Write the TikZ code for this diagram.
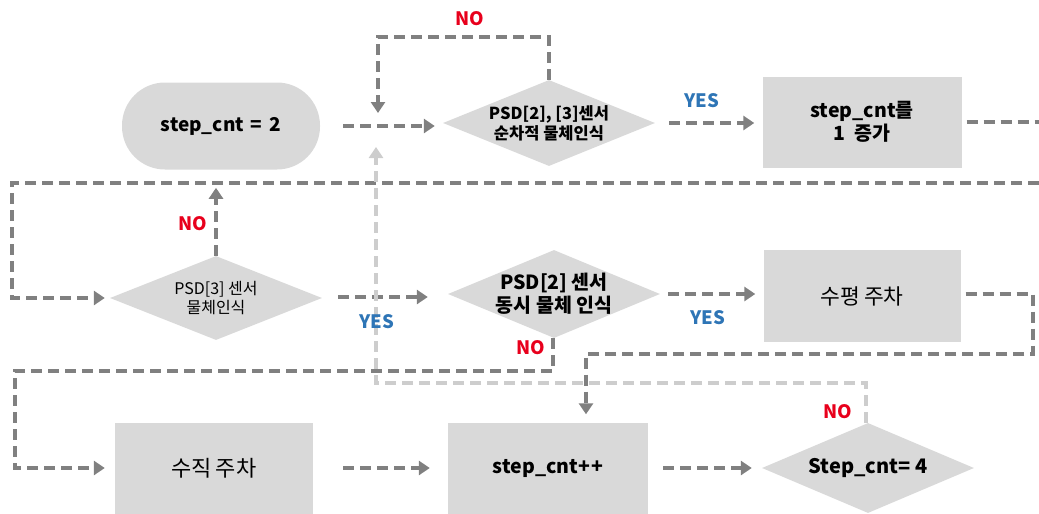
\documentclass[tikz,border=0pt]{standalone}
\usepackage{fontspec}
\setmainfont{Noto Sans CJK KR}
\usetikzlibrary{shapes.geometric,arrows.meta,calc}
\definecolor{boxfill}{HTML}{D9D9D9}
\definecolor{dk}{HTML}{808080}
\definecolor{lg}{HTML}{CDCDCD}
\definecolor{nored}{HTML}{E8001C}
\definecolor{yesblue}{HTML}{2E75B6}
\begin{document}
\begin{tikzpicture}[x=1pt,y=-1pt,
  proc/.style={rectangle,fill=boxfill,minimum width=199pt,minimum height=91pt,inner sep=0pt,align=center},
  term/.style={rectangle,rounded corners=43pt,fill=boxfill,minimum width=198pt,minimum height=87pt,inner sep=0pt},
  dec/.style={diamond,fill=boxfill,minimum width=212pt,minimum height=88pt,inner sep=0pt},
  txt/.style={align=center,inner sep=0pt,text=black},
  flowline/.style={draw=dk,line width=4pt,dash pattern=on 11pt off 6pt},
  flow/.style={flowline,-{Triangle[length=11pt,width=14pt]}},
  lflow/.style={draw=lg,line width=4pt,dash pattern=on 11pt off 6pt,-{Triangle[length=11pt,width=14pt]}},
  nolbl/.style={text=nored,font=\fontsize{18.5}{20}\selectfont\bfseries,inner sep=0pt},
  yeslbl/.style={text=yesblue,font=\fontsize{18.5}{20}\selectfont\bfseries,inner sep=0pt}]
\useasboundingbox (0,0) rectangle (1039,514);

% nodes
\node[term] (t1) at (221,126) {};
\node[txt,font=\fontsize{19}{21}\selectfont\bfseries] (t1t) at (t1) {step\_cnt\hspace{7pt}=\hspace{7pt}2};
\node[dec,minimum height=86pt] (d1) at (549,123) {};
\node[txt,font=\fontsize{16.5}{20}\selectfont\bfseries] (d1t) at (d1) {PSD[2], [3]센서\\순차적 물체인식};
\node[proc] (b1) at (862,122) {};
\node[txt,font=\fontsize{19.5}{23}\selectfont\bfseries] (b1t) at (b1) {step\_cnt를\\1\hspace{10pt}증가};

\node[dec,minimum height=84pt] (d2) at (216,298) {};
\node[txt,font=\fontsize{16}{19}\selectfont] (d2t) at (d2) {PSD[3] 센서\\물체인식};
\node[dec] (d3) at (554,294) {};
\node[txt,font=\fontsize{19.5}{23}\selectfont\bfseries] (d3t) at (d3) {PSD[2] 센서\\동시 물체 인식};
\node[proc,minimum width=197pt,minimum height=92pt] (b2) at (862,296) {};
\node[txt,font=\fontsize{21.5}{24}\selectfont] (b2t) at (b2) {수평\hspace{4pt}주차};

\node[proc,minimum width=198pt] (b3) at (214,468) {};
\node[txt,font=\fontsize{22}{24}\selectfont] (b3t) at (b3) {수직\hspace{4pt}주차};
\node[proc,minimum width=200pt] (b4) at (548,468) {};
\node[txt,font=\fontsize{19.5}{22}\selectfont\bfseries] (b4t) at (b4) {step\_cnt+\kern1pt+};
\node[dec,minimum height=90pt] (d4) at (868,468) {};
\node[txt,font=\fontsize{20}{22}\selectfont\bfseries] (d4t) at (d4) {Step\_cnt= 4};

% helper coordinates
\coordinate (J) at (378,126);
\coordinate (R1) at (1039,122);
\coordinate (R2) at (1039,183);
\coordinate (C1) at (12,183);
\coordinate (C2) at (15,371);
\coordinate (C3) at (1033,354);
\coordinate (C4) at (586,354);

% connectors
\draw[flow] ($(t1.east)+(23,0)$) -- ($(d1.west |- t1.east)+(-8,0)$);
\draw[flow] (d1.north) |- ($(J |- 0,37)$) -- ($(J)+(0,-13)$);
\draw[flow] ($(d1.east)+(14,0)$) -- ($(b1.west |- d1.east)+(-8,0)$);
\draw[flowline] ($(b1.east)+(5,0)$) -- (R1);
\draw[flow] (R2) -- (C1) |- ($(d2.west)+(-5,0)$);
\draw[flow] (d2.north) -- ($(d2.north)+(0,-68)$);
\draw[flow] ($(d2.east)+(16,-1)$) -- ($(d3.west |- d2.east)+(-20,-1)$);
\draw[flow] ($(d3.east)+(8,0)$) -- ($(b2.west |- d3.east)+(-8,0)$);
\draw[flow] ($(b2.east |- d3.east)+(5,0)$) -- (C3 |- d3.east) -- (C3) -- (C4) -- ($(C4 |- b4.north)+(0,-8)$);
\draw[flow] ($(d3.south)+(-1,0)$) -- ($(d3.south |- C2)+(-1,0)$) -- (C2) |- ($(b3.west)+(-10,0)$);
\draw[flow] ($(b3.east)+(30,0)$) -- ($(b4.west)+(-18,0)$);
\draw[flow] ($(b4.east)+(15,0)$) -- ($(d4.west)+(-10,0)$);
\draw[lflow] ($(d4.north)+(-2,0)$) -- ($(d4.north)+(-2,-40)$) -| ($(J)+(-2,21)$);

% labels
\node[nolbl] (no1) at (470,19) {NO};
\node[yeslbl] (yes1) at (702,101) {YES};
\node[nolbl] (no2) at (193,224) {NO};
\node[yeslbl] (yes2) at (377,322) {YES};
\node[yeslbl] (yes3) at (708,318) {YES};
\node[nolbl] (no3) at (531,348) {NO};
\node[nolbl] (no4) at (838,412) {NO};
\end{tikzpicture}
\end{document}
